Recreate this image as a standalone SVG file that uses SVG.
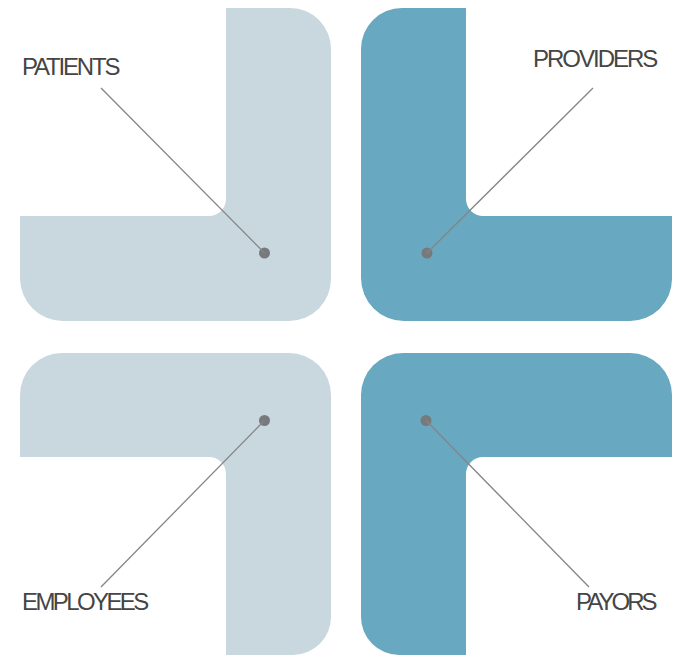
<svg xmlns="http://www.w3.org/2000/svg" width="676" height="657" viewBox="0 0 676 657">
  <style>
    .light { fill: #c9d7de; }
    .dark { fill: #68a8c0; }
    .dot { fill: #777a7c; }
    .lbl { font-family: "Liberation Sans", Arial, sans-serif; font-size: 24px; letter-spacing: -2px; fill: #454545; }
    .lead { stroke: #858585; stroke-width: 1.3; fill: none; }
  </style>
  <rect width="676" height="657" fill="#ffffff"/>

  <g id="patients">
    <path class="light" d="M20,216 H209 A17,17 0 0 0 226,199 V8 H290 A41,41 0 0 1 331,49 V279 A42,42 0 0 1 289,321 H63 A43,43 0 0 1 20,278 Z"/>
    <circle class="dot" cx="264.5" cy="253" r="5.5"/>
    <text class="lbl" x="22" y="74.5" style="letter-spacing:-2.2px">PATIENTS</text>
  </g>

  <g id="providers">
    <path class="dark" d="M466,8 V199 A17,17 0 0 0 483,216 H672 V279 A42,42 0 0 1 630,321 H404 A43,43 0 0 1 361,278 V49 A41,41 0 0 1 402,8 Z"/>
    <circle class="dot" cx="427" cy="253" r="5.5"/>
    <text class="lbl" x="533" y="67.3" style="letter-spacing:-2px">PROVIDERS</text>
  </g>

  <g id="employees">
    <path class="light" d="M20,457 H209 A17,17 0 0 1 226,474 V655 H293 A38,38 0 0 0 331,617 V395 A42,42 0 0 0 289,353 H62 A42,42 0 0 0 20,395 Z"/>
    <circle class="dot" cx="264.5" cy="420.5" r="5.5"/>
    <text class="lbl" x="22" y="610" style="letter-spacing:-2.6px">EMPLOYEES</text>
  </g>

  <g id="payors">
    <path class="dark" d="M672,457 H483 A17,17 0 0 0 466,474 V655 H399 A38,38 0 0 1 361,617 V395 A42,42 0 0 1 403,353 H630 A42,42 0 0 1 672,395 Z"/>
    <circle class="dot" cx="426" cy="420.5" r="5.5"/>
    <text class="lbl" x="576" y="610" style="letter-spacing:-3px">PAYORS</text>
  </g>

  <g id="connectors">
    <line class="lead" x1="101" y1="88" x2="264.5" y2="253"/>
    <line class="lead" x1="593" y1="88" x2="427" y2="253"/>
    <line class="lead" x1="101" y1="587" x2="264.5" y2="420.5"/>
    <line class="lead" x1="589" y1="587" x2="426" y2="420.5"/>
  </g>
</svg>
